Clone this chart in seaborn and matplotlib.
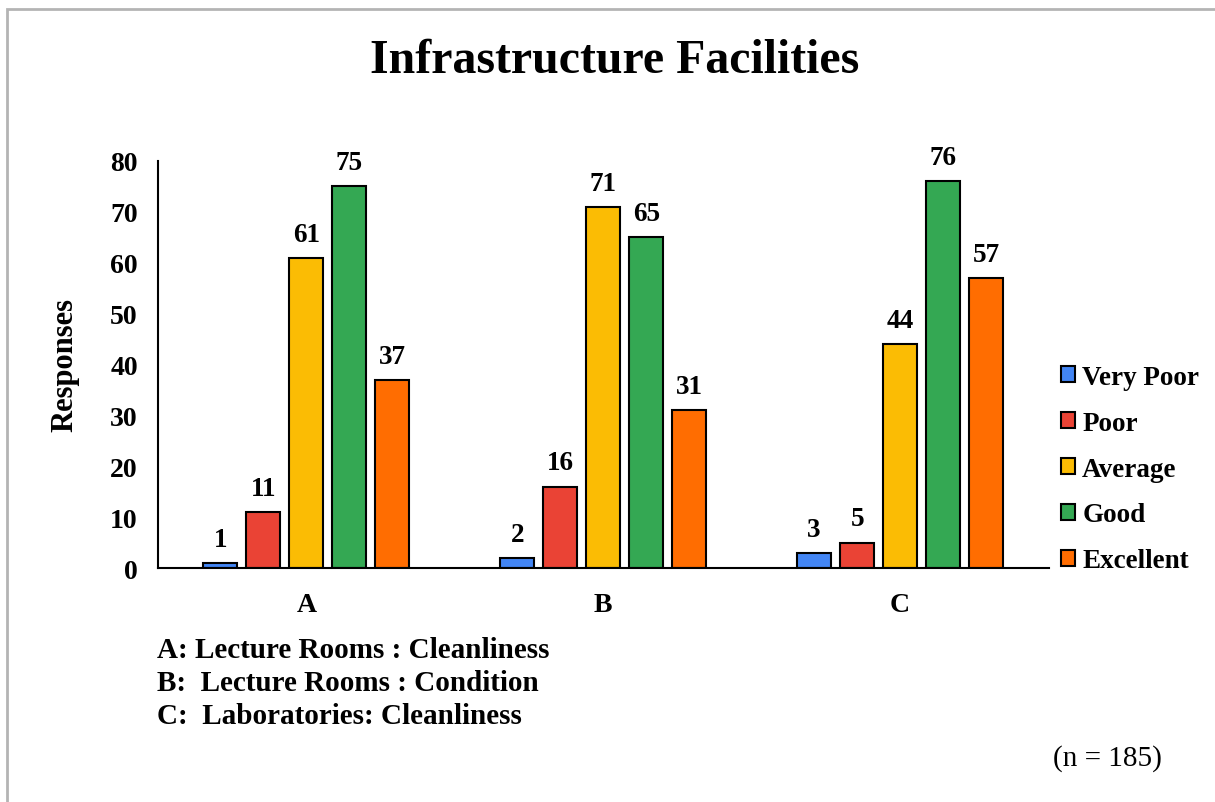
import matplotlib
matplotlib.use("Agg")
import matplotlib.pyplot as plt
import seaborn as sns
import pandas as pd
from matplotlib.patches import Rectangle

# --- data ---
categories = ["A", "B", "C"]
ratings = ["Very Poor", "Poor", "Average", "Good", "Excellent"]
very_poor = [1, 2, 3]
poor = [11, 16, 5]
average = [61, 71, 44]
good = [75, 65, 76]
excellent = [37, 31, 57]
colors = ["#4285F4", "#EA4335", "#FBBC04", "#34A853", "#FF6D01"]
notes = ["A: Lecture Rooms : Cleanliness",
         "B:  Lecture Rooms : Condition",
         "C:  Laboratories: Cleanliness"]

rows = []
for rating, vals in zip(ratings, [very_poor, poor, average, good, excellent]):
    for cat, v in zip(categories, vals):
        rows.append({"cat": cat, "rating": rating, "value": v})
df = pd.DataFrame(rows)

# --- style ---
sns.set_theme(style="white")
plt.rcParams["font.family"] = ["Liberation Serif", "DejaVu Serif"]
plt.rcParams["font.weight"] = "bold"
plt.rcParams["text.color"] = "black"
plt.rcParams["axes.labelcolor"] = "black"
plt.rcParams["xtick.color"] = "black"
plt.rcParams["ytick.color"] = "black"

fig = plt.figure(figsize=(12.15, 8.03), dpi=100)
ax = fig.add_axes([0.130, 0.2914, 0.733, 0.5069])

sns.barplot(data=df, x="cat", y="value", hue="rating", order=categories,
            hue_order=ratings, palette=colors, saturation=1, width=0.724,
            gap=0.21, edgecolor="black", linewidth=1.5, ax=ax)

for cont in ax.containers:
    ax.bar_label(cont, padding=8, fontsize=19.5, fontweight="bold",
                 color="black")

ax.set_ylim(0, 80)
ax.set_xlim(-0.5, 2.5)
ax.set_yticks(range(0, 81, 10))
ax.set_xlabel("")
ax.set_ylabel("Responses", fontsize=22, fontweight="bold", labelpad=22)
ax.tick_params(axis="y", direction="out", length=5.5, width=1.5, color="black",
               labelsize=20, pad=9)
ax.tick_params(axis="x", length=0, labelsize=20, pad=17)
for lab in ax.get_xticklabels() + ax.get_yticklabels():
    lab.set_fontweight("bold")
sns.despine(ax=ax)
for s in ["left", "bottom"]:
    ax.spines[s].set_color("black")
    ax.spines[s].set_linewidth(1.5)

leg = ax.legend(loc="center left", bbox_to_anchor=(0.987, 0.243), frameon=False,
                fontsize=19.5, handlelength=0.52, handleheight=0.52,
                handletextpad=0.25, labelspacing=0.77)
for t in leg.get_texts():
    t.set_fontweight("bold")

fig.text(0.506, 0.924, "Infrastructure Facilities", ha="center", va="center",
         fontsize=34.5, fontweight="bold")
for i, note in enumerate(notes):
    fig.text(157 / 1215, 1 - (651 + 33 * i) / 803, note, ha="left",
             va="center", fontsize=21, fontweight="bold")
fig.text(1107 / 1215, 1 - 759 / 803, "(n = 185)", ha="center", va="center",
         fontsize=21, fontweight="normal")

fig.add_artist(Rectangle((7 / 1215, -0.1), 1.2, 1 - 9.5 / 803 + 0.1,
                         transform=fig.transFigure, fill=False,
                         edgecolor="#b4b4b4", linewidth=2))

fig.savefig("out.png", dpi=100, facecolor="white")
